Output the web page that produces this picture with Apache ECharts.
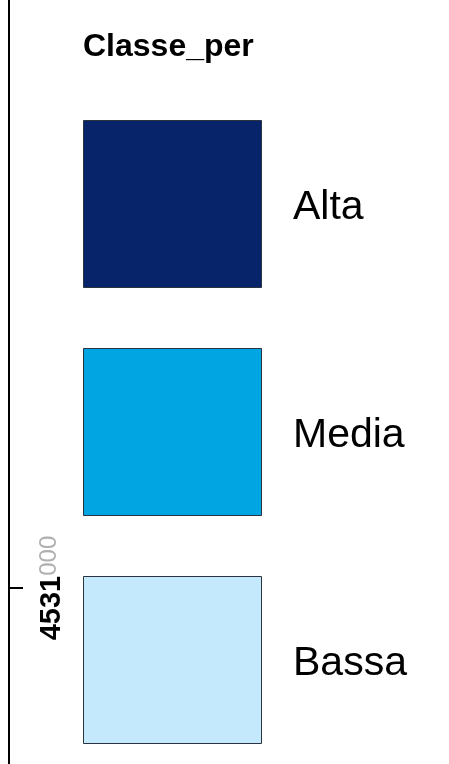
<!DOCTYPE html>
<html><head><meta charset="utf-8">
<script src="https://cdn.jsdelivr.net/npm/echarts@6/dist/echarts.min.js"></script>
<style>html,body{margin:0;padding:0;background:#fff}#c{width:449px;height:764px}</style>
</head><body><div id="c"></div>
<script>
const title = 'Classe_per';
const categories = ['Alta', 'Media', 'Bassa'];
const swatchValues = [1, 1, 1];
const colors = ['#07246a', '#00a5e2', '#c4e8fc'];
const tickValues = [4531000];
const axisMin = 4530000;
const axisMax = 4534341;

const chart = echarts.init(document.getElementById('c'));
chart.setOption({
  backgroundColor: '#ffffff',
  animation: false,
  title: {
    text: title, left: 83, top: 31, padding: 0,
    textStyle: {fontFamily: 'Liberation Sans', fontWeight: 'bold', fontSize: 32, color: '#000'}
  },
  grid: [
    {left: 83, width: 179, top: 204, bottom: 104},
    {left: 9, width: 1, top: 0, height: 764}
  ],
  xAxis: [
    {gridIndex: 0, type: 'value', min: 0, max: 1, show: false},
    {gridIndex: 1, type: 'value', show: false}
  ],
  yAxis: [
    {gridIndex: 0, type: 'category', data: categories, inverse: true, boundaryGap: false, show: false},
    {gridIndex: 1, type: 'value', min: axisMin, max: axisMax,
     axisLine: {show: true, lineStyle: {color: '#000', width: 2}},
     splitLine: {show: false},
     axisTick: {show: true, inside: true, length: 14, lineStyle: {color: '#000', width: 2}, customValues: tickValues},
     axisLabel: {
       show: true, inside: true, rotate: 90, margin: 28, customValues: tickValues,
       formatter: v => '{a|' + String(v).slice(0, 4) + '}{b|' + String(v).slice(4) + '}',
       rich: {
         a: {fontFamily: 'Liberation Sans', fontWeight: 'bold', fontSize: 29, color: '#000', lineHeight: 28, verticalAlign: 'top'},
         b: {fontFamily: 'Liberation Sans', fontSize: 24, color: '#b0b0b0', lineHeight: 28, verticalAlign: 'top'}
       }
     }}
  ],
  series: [{
    type: 'bar', xAxisIndex: 0, yAxisIndex: 0,
    data: swatchValues.map((v, i) => ({value: v, itemStyle: {color: colors[i]}})),
    barWidth: 168,
    itemStyle: {borderColor: '#2a3440', borderWidth: 1},
    label: {
      show: true, position: 'right', distance: 31, offset: [0, 4], formatter: '{b}',
      fontFamily: 'Liberation Sans', fontSize: 41, color: '#000'
    }
  }]
});
</script></body></html>
